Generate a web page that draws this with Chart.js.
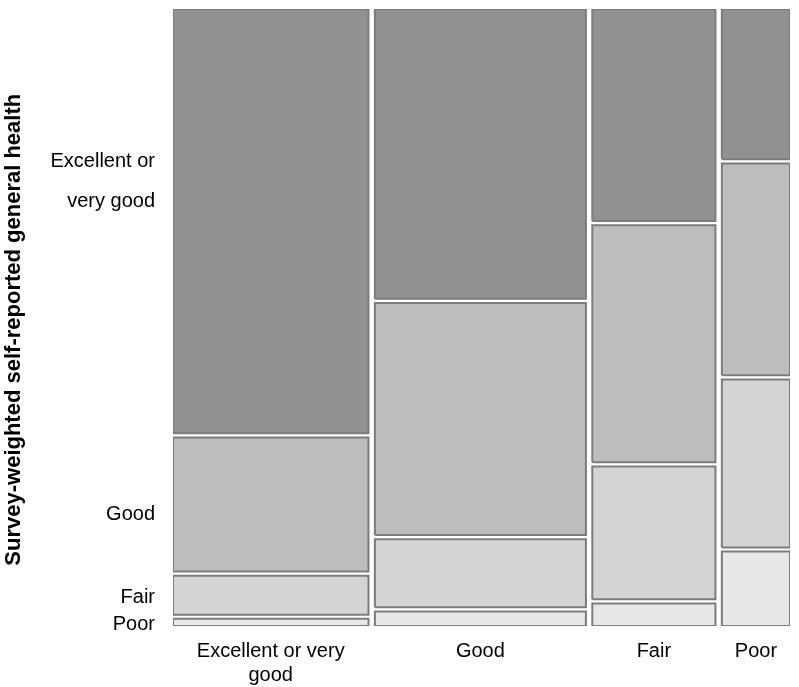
<!DOCTYPE html>
<html lang="en">
<head>
<meta charset="UTF-8">
<title>Self-reported general health mosaic</title>
<script src="https://cdn.jsdelivr.net/npm/chart.js"></script>
<style>
  html, body { margin: 0; padding: 0; background: #fff; }
  .wrap { width: 799px; height: 687px; }
</style>
</head>
<body>
<div class="wrap"><canvas id="mosaic"></canvas></div>
<script>
// column groups (x) and their share of the total
const columnLabels = [['Excellent or very', 'good'], 'Good', 'Fair', 'Poor'];
const columnShare = [0.327, 0.353, 0.206, 0.114];

// share of each health level inside every column
const excellentShare = [0.691, 0.473, 0.347, 0.247];
const goodShare      = [0.224, 0.383, 0.391, 0.350];
const fairShare      = [0.070, 0.117, 0.222, 0.279];
const poorShare      = [0.015, 0.027, 0.040, 0.124];

// y axis labels and where they sit
const rowLabels  = [['Excellent or', 'very good'], 'Good', 'Fair', 'Poor'];
const rowTickPos = [0.720, 0.181, 0.046, 0.003];

const fills = ['#e8e8e8', '#d4d4d4', '#bdbdbd', '#919191']; // poor -> excellent
const gapX = 0.0107;
const gapY = 0.0068;

// stack from the bottom: poor, fair, good, excellent
const rows = [poorShare, fairShare, goodShare, excellentShare];

const datasets = [];
let left = 0;
const centers = [];
columnShare.forEach((w, c) => {
    const x0 = left, x1 = left + w;
    centers.push((x0 + x1) / 2);
    let base = 0;
    rows.forEach((share, r) => {
        const top = base + share[c];
        const y0 = r === 0 ? 0 : base + gapY / 2;
        const y1 = r === rows.length - 1 ? 1 : top - gapY / 2;
        datasets.push({
            data: [
                { x: x0, y: y0 }, { x: x0, y: y1 }, { x: x1, y: y1 },
                { x: x1, y: y0 }, { x: x0, y: y0 }
            ],
            showLine: true,
            fill: 'shape',
            backgroundColor: fills[r],
            borderColor: '#7c7c7c',
            borderWidth: 2,
            pointRadius: 0,
            tension: 0
        });
        base = top;
    });
    left = x1 + gapX;
});

const fontFamily = "'Liberation Sans', Arial, sans-serif";

new Chart(document.getElementById('mosaic'), {
    type: 'scatter',
    data: { datasets: datasets },
    options: {
        responsive: true,
        maintainAspectRatio: false,
        animation: false,
        layout: { padding: { top: 9, right: 9, left: 0, bottom: 0 } },
        plugins: { legend: { display: false }, tooltip: { enabled: false } },
        scales: {
            x: {
                type: 'linear',
                min: 0,
                max: 1 + gapX * (columnShare.length - 1),
                grid: { display: false, drawTicks: false },
                border: { display: false },
                afterBuildTicks: (scale) => { scale.ticks = centers.map(v => ({ value: v })); },
                afterFit: (scale) => {
                    scale.height = 61;
                    scale.paddingLeft = 0;
                    scale.paddingRight = 0;
                },
                ticks: {
                    autoSkip: false,
                    maxRotation: 0,
                    padding: 13,
                    color: '#000',
                    font: { family: fontFamily, size: 20, lineHeight: 1.2 },
                    callback: (v, i) => columnLabels[i]
                }
            },
            y: {
                type: 'linear',
                min: 0,
                max: 1,
                grid: { display: false, drawTicks: false },
                border: { display: false },
                afterBuildTicks: (scale) => { scale.ticks = rowTickPos.map(v => ({ value: v })); },
                afterFit: (scale) => {
                    scale.width = 173;
                    scale.paddingTop = 0;
                    scale.paddingBottom = 0;
                },
                title: {
                    display: true,
                    // trailing spaces nudge the centred title down a little
                    text: 'Survey-weighted self-reported general health    ',
                    color: '#000',
                    font: { family: fontFamily, size: 22, weight: 'bold' },
                    padding: { top: 1, bottom: 0 }
                },
                ticks: {
                    autoSkip: false,
                    padding: 18,
                    color: '#000',
                    font: (ctx) => ({
                        family: fontFamily,
                        size: 20,
                        lineHeight: ctx.index === 0 ? 2 : 1.2
                    }),
                    callback: (v, i) => rowLabels[i]
                }
            }
        }
    }
});
</script>
</body>
</html>
